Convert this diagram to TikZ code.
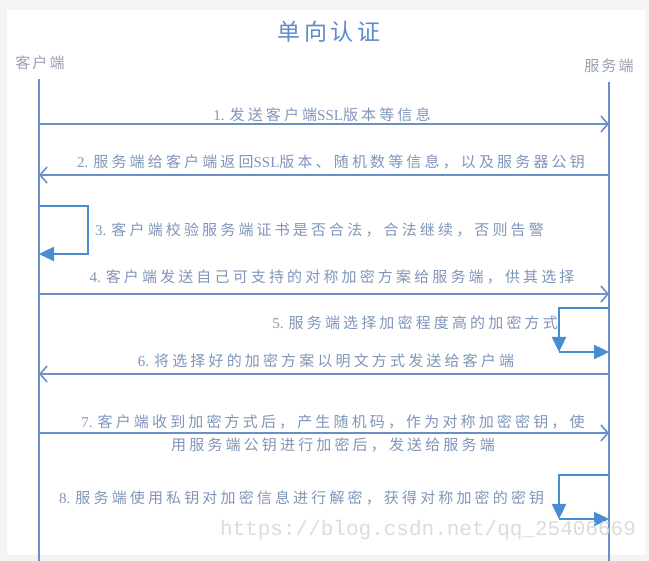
\documentclass[tikz,border=0pt]{standalone}
\usepackage{fontspec}
\setmainfont{Liberation Serif}
\newfontfamily\cjk[LetterSpace=21]{Noto Sans CJK SC}
\newfontfamily\cjkt[LetterSpace=16]{Noto Sans CJK SC}
\newfontfamily\cjkh[LetterSpace=14]{Noto Sans CJK SC}
\newfontfamily\wmfont{Liberation Mono}
\usetikzlibrary{arrows.meta}
\definecolor{bgc}{RGB}{244,244,244}
\definecolor{linec}{RGB}{108,143,198}
\definecolor{loopc}{RGB}{72,140,212}
\definecolor{lblc}{RGB}{128,150,184}
\definecolor{titlec}{RGB}{92,140,204}
\definecolor{headc}{RGB}{150,160,176}
\definecolor{wmc}{RGB}{216,216,216}
\newcommand\zh[1]{{\cjk #1}}
\tikzset{
  lbl/.style={font=\fontsize{15}{18}\selectfont, text=lblc, inner sep=0pt},
  head/.style={font=\cjkh\fontsize{15}{18}\selectfont, text=headc, inner sep=0pt},
  life/.style={draw=linec, line width=1.8pt},
  msg/.style={draw=linec, line width=1.8pt, -{Straight Barb[length=7pt,width=16pt,line width=1.6pt]}},
  selfloop/.style={draw=loopc, line width=2.4pt, -{Triangle[length=15pt,width=14pt]}}
}
\begin{document}
\begin{tikzpicture}[x=1pt,y=-1pt]
\useasboundingbox (0,0) rectangle (649,561);
\fill[bgc] (0,0) rectangle (649,561);
\fill[white] (7,10) rectangle (645,555);

% title and heads
\node[font=\cjkt\fontsize{23}{26}\selectfont, text=titlec, inner sep=0pt] (title) at (329,32) {单向认证};
\node[head] (cl) at (40,63) {客户端};
\node[head] (sv) at (609,66) {服务端};

% lifelines
\coordinate (cT) at (39,79);
\coordinate (cB) at (39,561);
\coordinate (sT) at (609,82);
\coordinate (sB) at (609,561);
\draw[life] (cT) -- (cB);
\draw[life] (sT) -- (sB);

% message anchor points
\foreach \n/\y in {1/124,2/175,4/294,6/374,7/433}{
  \coordinate (c\n) at (39,\y);
  \coordinate (s\n) at (609,\y);
}

% messages
\draw[msg] (c1) -- (s1);
\node[lbl] (l1) at (322,115) {1. \zh{发送客户端}SSL\zh{版本等信息}};

\draw[msg] (s2) -- (c2);
\node[lbl] (l2) at (331,162) {2. \zh{服务端给客户端返回}SSL\zh{版本、随机数等信息，以及服务器公钥}};

\coordinate (c3a) at (39,206);
\coordinate (k3) at (88,254);
\coordinate (c3b) at (39,254);
\draw[selfloop] (c3a) -| (k3) -- (c3b);
\node[lbl, anchor=west] (l3) at (95,230) {3. \zh{客户端校验服务端证书是否合法，合法继续，否则告警}};

\draw[msg] (c4) -- (s4);
\node[lbl] (l4) at (332,277) {4. \zh{客户端发送自己可支持的对称加密方案给服务端，供其选择}};

\coordinate (s5a) at (609,308);
\coordinate (k5) at (559,352);
\coordinate (s5b) at (609,352);
\draw[selfloop] (s5a) -| (k5);
\draw[selfloop] (k5) -- (s5b);
\node[lbl, anchor=east] (l5) at (558,323) {5. \zh{服务端选择加密程度高的加密方式}};

\draw[msg] (s6) -- (c6);
\node[lbl] (l6) at (326,361) {6. \zh{将选择好的加密方案以明文方式发送给客户端}};

\draw[msg] (c7) -- (s7);
\node[lbl, align=center, font=\fontsize{15}{23}\selectfont] (l7) at (333,433.5) {7. \zh{客户端收到加密方式后，产生随机码，作为对称加密密钥，使}\\\zh{用服务端公钥进行加密后，发送给服务端}};

\coordinate (s8a) at (609,475);
\coordinate (k8) at (559,519);
\coordinate (s8b) at (609,519);
\draw[selfloop] (s8a) -| (k8);
\draw[selfloop] (k8) -- (s8b);
\node[lbl, anchor=west] (l8) at (59,498) {8. \zh{服务端使用私钥对加密信息进行解密，获得对称加密的密钥}};

% watermark
\node[font=\wmfont\fontsize{21}{24}\selectfont, text=wmc, opacity=0.9, inner sep=0pt] (wm) at (428,530) {https://blog.csdn.net/qq\_25406669};
\end{tikzpicture}
\end{document}
